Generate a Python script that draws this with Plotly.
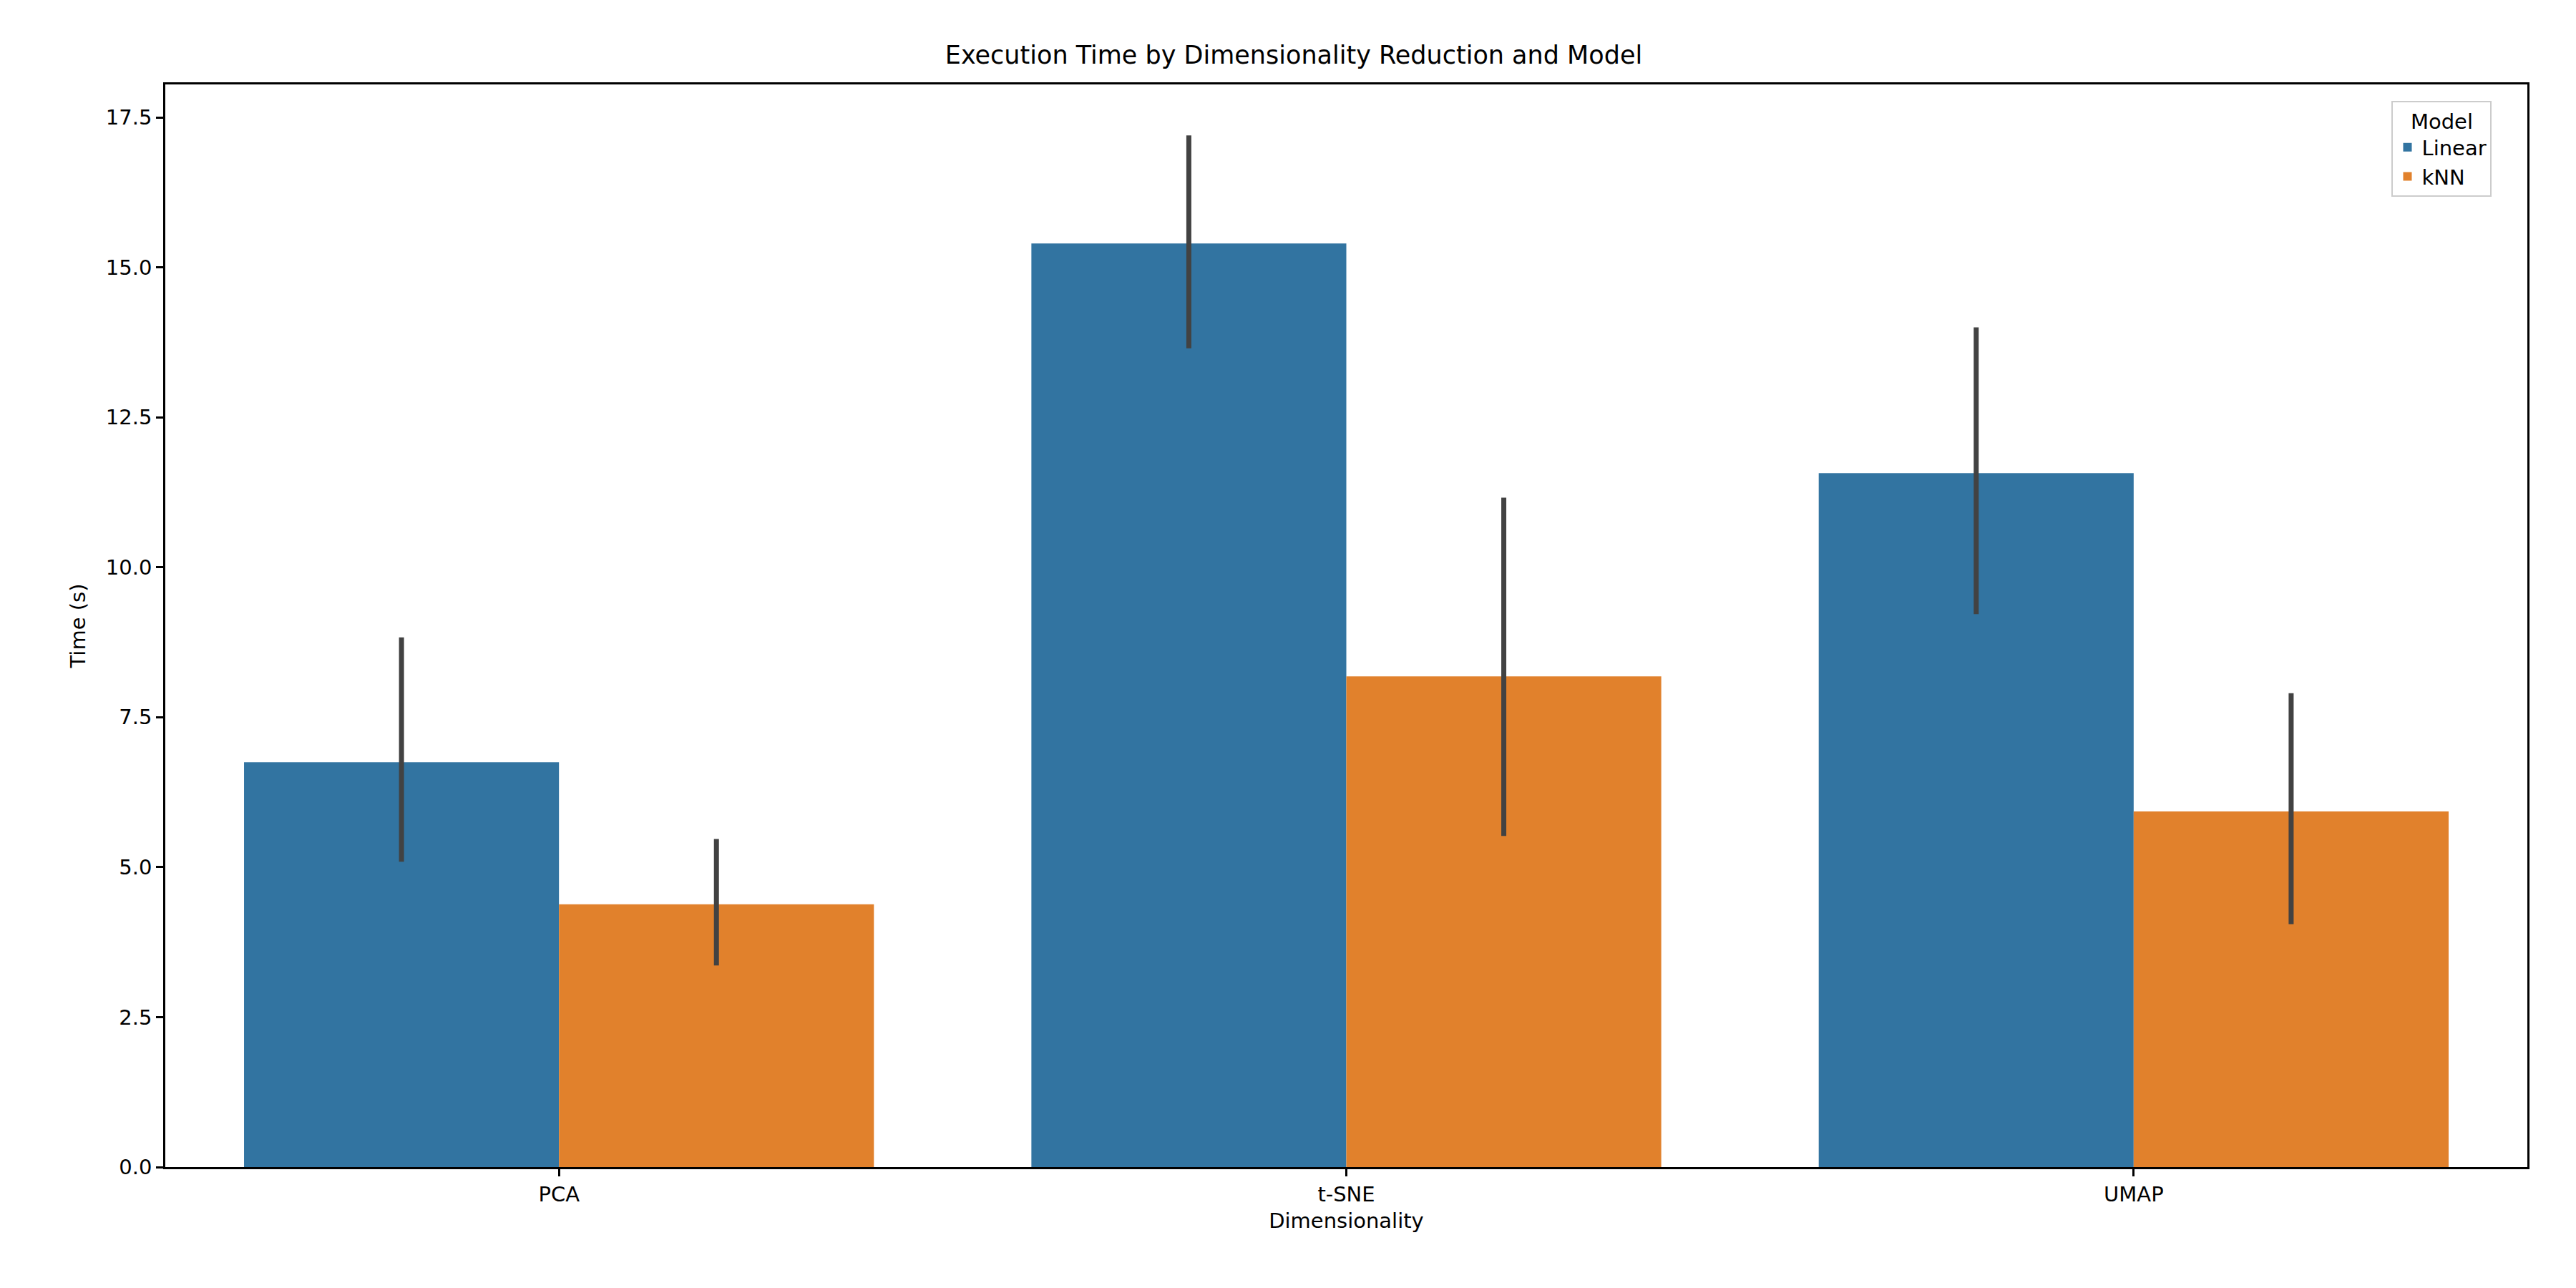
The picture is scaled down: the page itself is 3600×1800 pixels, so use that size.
import plotly.graph_objects as go

methods = ["PCA", "t-SNE", "UMAP"]
linear = [6.75, 15.40, 11.57]
linear_hi = [8.83, 17.20, 14.00]
linear_lo = [5.09, 13.65, 9.22]
knn = [4.38, 8.18, 5.93]
knn_hi = [5.47, 11.16, 7.90]
knn_lo = [3.36, 5.52, 4.05]

def bar(name, vals, hi, lo, color):
    return go.Bar(
        name=name, x=methods, y=vals, marker_color=color, marker_line_width=0,
        error_y=dict(type="data", symmetric=False,
                     array=[h - v for h, v in zip(hi, vals)],
                     arrayminus=[v - l for v, l in zip(vals, lo)],
                     color="#424242", thickness=7, width=0),
    )

fig = go.Figure([
    bar("Linear", linear, linear_hi, linear_lo, "#3274a1"),
    bar("kNN", knn, knn_hi, knn_lo, "#e1812c"),
])

axis_common = dict(showline=True, linewidth=2.5, linecolor="black", mirror=True,
                   ticks="outside", ticklen=10, tickwidth=2.5, tickcolor="black",
                   showgrid=False, zeroline=False,
                   tickfont=dict(size=29, color="black"),
                   title_font=dict(size=29, color="black"))

fig.update_layout(
    width=3600, height=1800,
    paper_bgcolor="white", plot_bgcolor="white",
    font=dict(family="DejaVu Sans", color="black"),
    title=dict(text="Execution Time by Dimensionality Reduction and Model",
               x=0.5, xanchor="center", y=0.955, yanchor="bottom",
               font=dict(size=35)),
    margin=dict(l=223, r=76, t=110, b=177),
    barmode="group", bargap=0.2, bargroupgap=0,
    legend=dict(title=dict(text="Model", side="top center", font=dict(size=29)),
                font=dict(size=29), x=0.985, xanchor="right", y=0.985, yanchor="top",
                bordercolor="#cccccc", borderwidth=2, bgcolor="white"),
    xaxis=dict(title=dict(text="Dimensionality", standoff=12), range=[-0.5, 2.5], **axis_common),
    yaxis=dict(title=dict(text="Time (s)", standoff=20), range=[0, 18.05],
               tickvals=[0, 2.5, 5, 7.5, 10, 12.5, 15, 17.5],
               ticktext=["0.0", "2.5", "5.0", "7.5", "10.0", "12.5", "15.0", "17.5"],
               **axis_common),
)

fig.write_html("out.html")
